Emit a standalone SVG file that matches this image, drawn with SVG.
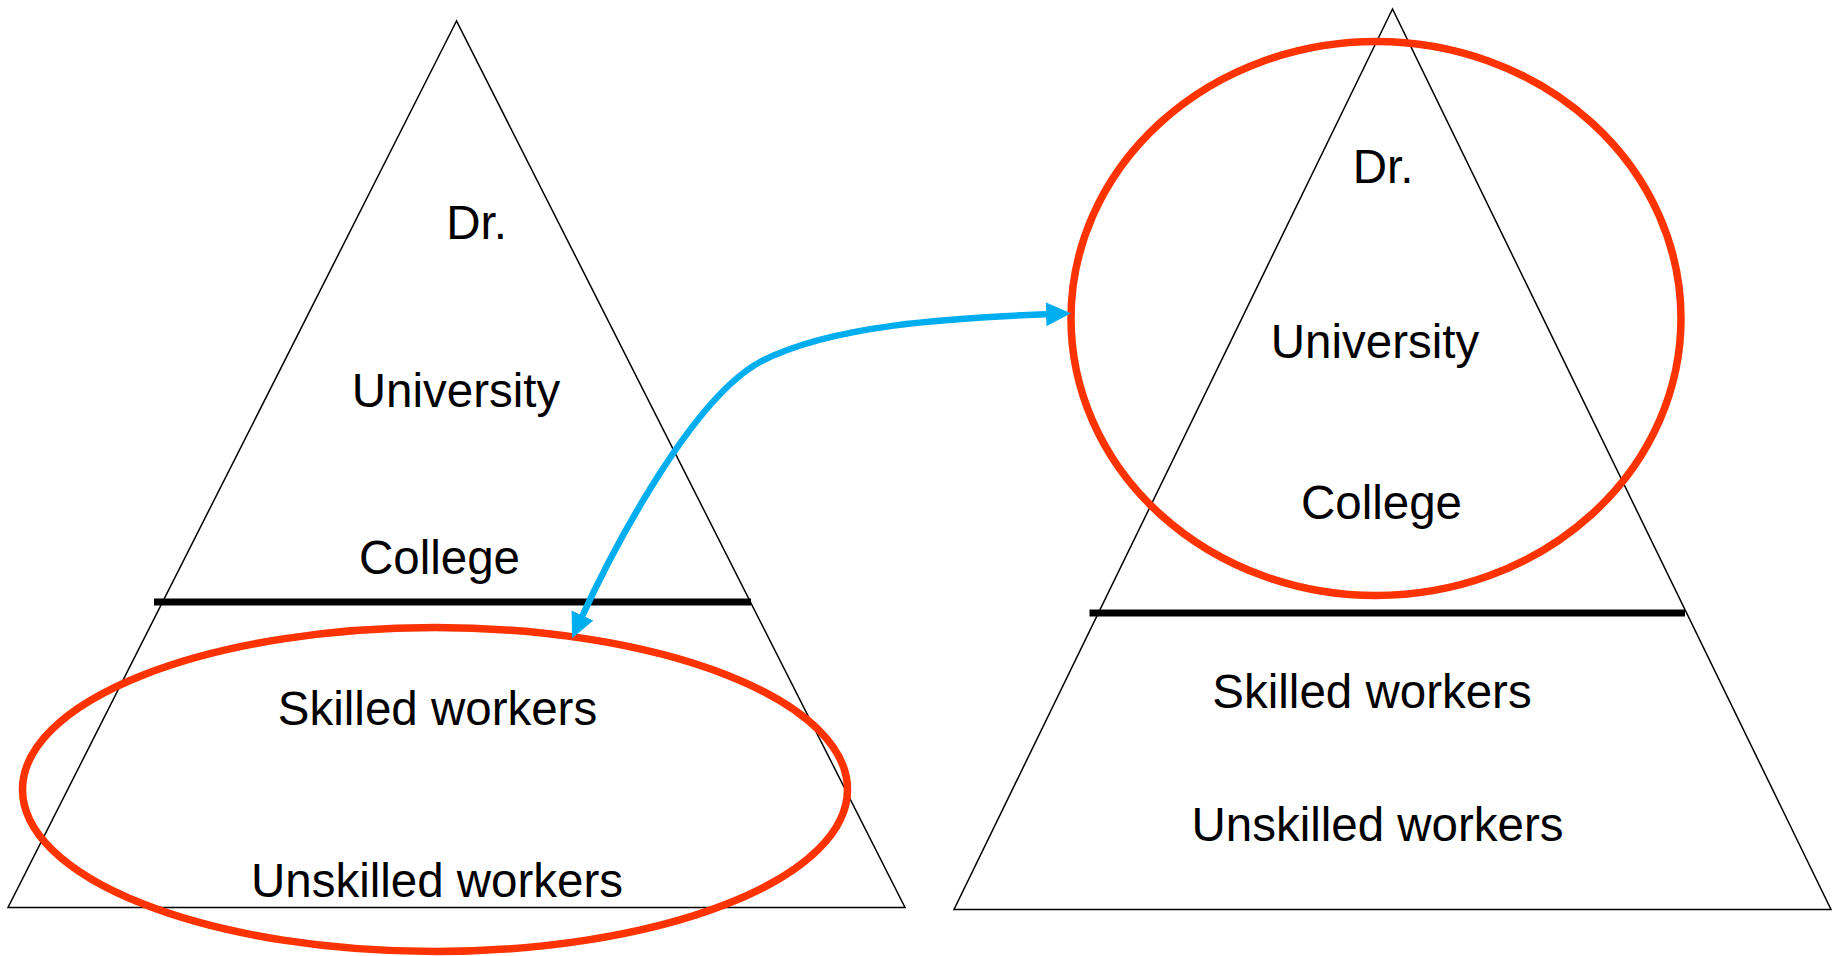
<svg xmlns="http://www.w3.org/2000/svg" width="1843" height="956" viewBox="0 0 1843 956">
<style>
.tri{fill:none;stroke:#000;stroke-width:1.5;stroke-linejoin:miter}
.bar{stroke:#000;stroke-width:7}
.ring{fill:none;stroke:#ff3300;stroke-width:7.5}
.lbl{font-family:"Liberation Sans",Arial,sans-serif;font-size:47.5px;fill:#000;text-anchor:middle}
.link{fill:none;stroke:#00aeef;stroke-width:6.5}
</style>
<defs>
<marker id="ah" markerUnits="userSpaceOnUse" markerWidth="28" markerHeight="26" refX="6" refY="12" orient="auto-start-reverse">
<path d="M0,0 L25,12 L0,24 Z" fill="#00aeef"/>
</marker>
</defs>
<rect width="1843" height="956" fill="#fff"/>
<g id="left-pyramid">
<path class="tri" d="M456.5,21 L8,907.5 L905,907.5 Z"/>
<line class="bar" x1="154" y1="602" x2="751" y2="602"/>
<text class="lbl" x="476.5" y="238.5">Dr.</text>
<text class="lbl" x="456" y="407">University</text>
<text class="lbl" x="439.5" y="574">College</text>
<text class="lbl" x="437.5" y="724.5">Skilled workers</text>
<text class="lbl" x="437" y="897">Unskilled workers</text>
</g>
<g id="right-pyramid">
<path class="tri" d="M1392.5,9 L954,909.5 L1831,909.5 Z"/>
<line class="bar" x1="1089.5" y1="613" x2="1685" y2="613"/>
<text class="lbl" x="1383" y="182.5">Dr.</text>
<text class="lbl" x="1375" y="358">University</text>
<text class="lbl" x="1381.5" y="519">College</text>
<text class="lbl" x="1372" y="708">Skilled workers</text>
<text class="lbl" x="1377.5" y="840.5">Unskilled workers</text>
</g>
<g id="left-highlight">
<ellipse class="ring" cx="435" cy="789.5" rx="412.5" ry="162"/>
</g>
<g id="right-highlight">
<ellipse class="ring" cx="1376" cy="318.5" rx="305" ry="277"/>
</g>
<g id="connectors">
<path class="link" d="M580,621 C610,555 690,400 760,362 C830,325 950,318 1052,314" marker-start="url(#ah)" marker-end="url(#ah)"/>
</g>
</svg>
